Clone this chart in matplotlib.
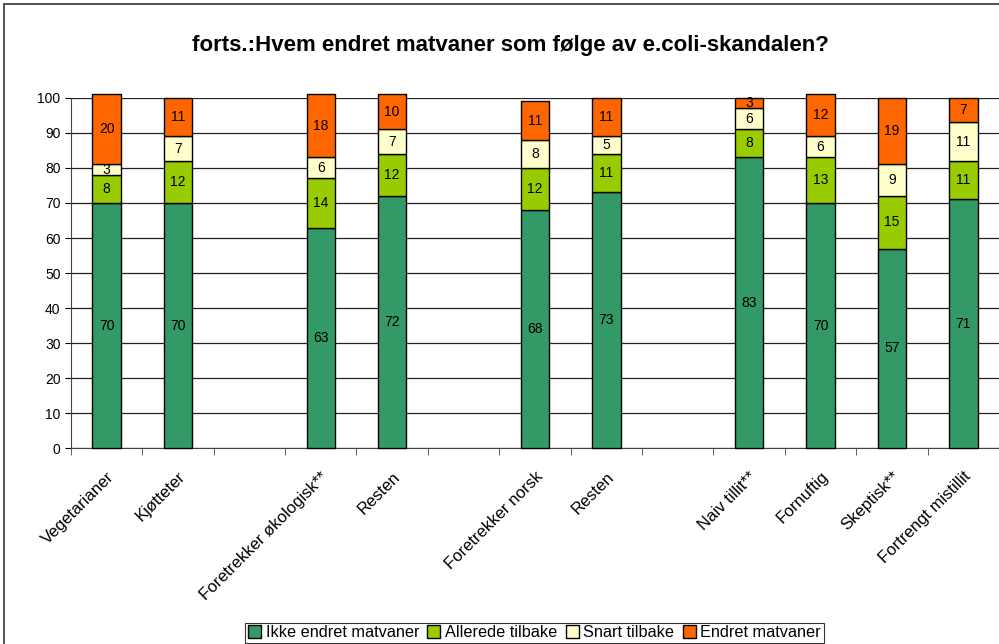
import matplotlib

matplotlib.use("Agg")
import matplotlib.pyplot as plt
import numpy as np
from matplotlib.patches import Rectangle

plt.rcParams["font.family"] = ["Liberation Sans", "DejaVu Sans"]

# Empty strings are the spacer columns between groups
categories = [
    "Vegetarianer", "Kjøtteter", "",
    "Foretrekker økologisk**", "Resten", "",
    "Foretrekker norsk", "Resten", "",
    "Naiv tillit**", "Fornuftig", "Skeptisk**", "Fortrengt mistillit",
]
ikke_endret = [70, 70, None, 63, 72, None, 68, 73, None, 83, 70, 57, 71]
allerede_tilbake = [8, 12, None, 14, 12, None, 12, 11, None, 8, 13, 15, 11]
snart_tilbake = [3, 7, None, 6, 7, None, 8, 5, None, 6, 6, 9, 11]
endret = [20, 11, None, 18, 10, None, 11, 11, None, 3, 12, 19, 7]

series = [
    ("Ikke endret matvaner", ikke_endret, "#339966"),
    ("Allerede tilbake", allerede_tilbake, "#99CC00"),
    ("Snart tilbake", snart_tilbake, "#FFFFCC"),
    ("Endret matvaner", endret, "#FF6600"),
]

fig = plt.figure(figsize=(9.99, 6.44), dpi=100, facecolor="white")
ax = fig.add_axes([0.071, 0.304, 0.929, 0.544])

x = np.arange(len(categories))
bottom = np.zeros(len(categories))
handles = []
for name, vals, color in series:
    v = np.array([np.nan if a is None else a for a in vals], dtype=float)
    h = np.nan_to_num(v)
    bars = ax.bar(x, h, width=0.4, bottom=bottom, color=color,
                  edgecolor="black", linewidth=1.0, label=name, zorder=3,
                  clip_on=False)
    for xi, bi, hi, vi in zip(x, bottom, h, v):
        if np.isnan(vi):
            continue
        ax.text(xi, bi + hi / 2, f"{int(vi)}", ha="center", va="center",
                fontsize=10, zorder=4, clip_on=False)
    for b, vi in zip(bars, v):
        if np.isnan(vi):
            b.set_visible(False)
    handles.append(bars)
    bottom = bottom + h

ax.set_xlim(-0.5, len(categories) - 0.5)
ax.set_ylim(0, 100)
ax.set_yticks(np.arange(0, 101, 10))
ax.tick_params(axis="y", labelsize=10, length=4, direction="out")
ax.yaxis.grid(True, color="#222222", linewidth=0.9, zorder=0)

# category labels at centres, tick marks at boundaries
ax.set_xticks(x)
ax.set_xticklabels(categories, rotation=45, ha="right", va="top",
                   rotation_mode="anchor", fontsize=12)
ax.tick_params(axis="x", length=0, pad=15)
ax.set_xticks(np.arange(-0.5, len(categories) + 0.5, 1), minor=True)
ax.tick_params(axis="x", which="minor", length=5, color="#444444")

for side in ["top", "right"]:
    ax.spines[side].set_visible(False)
ax.spines["left"].set_color("#444444")
ax.spines["bottom"].set_color("#444444")

fig.text(0.511, 0.93, "forts.:Hvem endret matvaner som følge av e.coli-skandalen?",
         ha="center", va="center", fontsize=16, fontweight="bold")

leg = fig.legend(handles=handles, loc="lower center", ncol=4,
                 bbox_to_anchor=(0.535, 0.002), frameon=True, fancybox=False,
                 fontsize=11.7, handlelength=0.8, handleheight=0.8,
                 handletextpad=0.3, columnspacing=0.5, borderpad=0.15,
                 borderaxespad=0)
leg.get_frame().set_edgecolor("black")
leg.get_frame().set_linewidth(0.8)

# outer chart border
fig.patches.append(Rectangle((0.004, -0.5), 2, 1.494, transform=fig.transFigure,
                             fill=False, edgecolor="#333333", linewidth=1.2))

fig.savefig("out.png", dpi=100, facecolor="white")
